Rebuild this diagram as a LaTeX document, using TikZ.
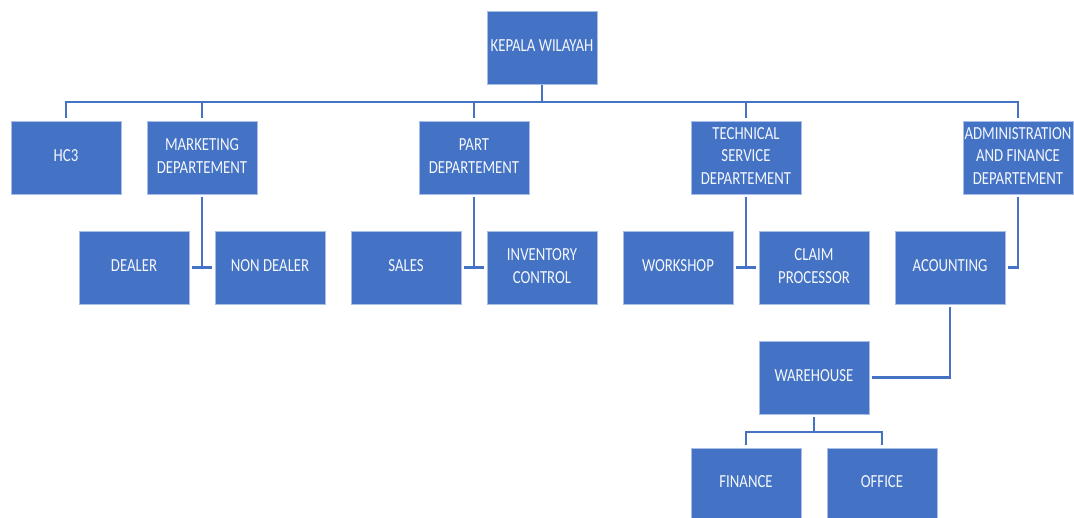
\documentclass[tikz,border=0pt]{standalone}
\usepackage{fontspec}
\setmainfont{Carlito}
\usepackage{graphicx}
\definecolor{boxblue}{HTML}{4472C4}
\definecolor{edgeblue}{HTML}{A9BEE6}
\definecolor{txtwhite}{HTML}{F4F7FC}
\newcommand{\lbl}[1]{\raisebox{-1.5pt}{\scalebox{1.02}[1.27]{\begin{tabular}{@{}c@{}}#1\end{tabular}}}}
\begin{document}
\begin{tikzpicture}[x=1pt,y=-1pt,
  orgbox/.style={rectangle, fill=boxblue, draw=edgeblue, line width=0.6pt,
    minimum width=110pt, minimum height=73pt, inner sep=0pt,
    text=txtwhite, font=\fontsize{14.5}{17.5}\selectfont},
  lowbox/.style={orgbox, minimum height=70pt},
  conn/.style={draw=boxblue, line width=2.6pt, line cap=butt, line join=miter},
  gap/.style={shorten <=3pt, shorten >=3pt}]
\useasboundingbox (0,0) rectangle (1074,518);

\node[orgbox] (kw) at (542,47.5) {\lbl{KEPALA WILAYAH}};
\node[orgbox] (hc3) at (66,157.5) {\lbl{HC3}};
\node[orgbox] (mkt) at (202,157.5) {\lbl{MARKETING\\DEPARTEMENT}};
\node[orgbox] (part) at (474,157.5) {\lbl{PART\\DEPARTEMENT}};
\node[orgbox] (tech) at (746,157.5) {\lbl{TECHNICAL\\SERVICE\\DEPARTEMENT}};
\node[orgbox] (admin) at (1018,157.5) {\lbl{ADMINISTRATION\\AND FINANCE\\DEPARTEMENT}};
\node[orgbox] (dealer) at (134,267.5) {\lbl{DEALER}};
\node[orgbox] (nondealer) at (270,267.5) {\lbl{NON DEALER}};
\node[orgbox] (sales) at (406,267.5) {\lbl{SALES}};
\node[orgbox] (inv) at (542,267.5) {\lbl{INVENTORY\\CONTROL}};
\node[orgbox] (work) at (678,267.5) {\lbl{WORKSHOP}};
\node[orgbox] (claim) at (814,267.5) {\lbl{CLAIM\\PROCESSOR}};
\node[orgbox] (acc) at (950,267.5) {\lbl{ACOUNTING}};
\node[orgbox] (wh) at (814,377.5) {\lbl{WAREHOUSE}};
\node[lowbox] (fin) at (746,483.5) {\lbl{FINANCE}};
\node[lowbox] (off) at (882,483.5) {\lbl{OFFICE}};

\coordinate (bus) at (542,102);
\coordinate (wbus) at (814,432);

% top bus
\draw[conn, shorten <=1pt] (kw.south) -- (kw.south |- bus);
\draw[conn, gap] (hc3.north) -- (hc3.north |- bus) -- (admin.north |- bus) -- (admin.north);
\draw[conn, shorten >=3pt] (mkt.north |- bus) -- (mkt.north);
\draw[conn, shorten >=3pt] (part.north |- bus) -- (part.north);
\draw[conn, shorten >=3pt] (tech.north |- bus) -- (tech.north);

% second level
\draw[conn, shorten <=3pt] (mkt.south) -- (mkt.south |- dealer.east);
\draw[conn, gap] (dealer.east) -- (nondealer.west);
\draw[conn, shorten <=3pt] (part.south) -- (part.south |- sales.east);
\draw[conn, gap] (sales.east) -- (inv.west);
\draw[conn, shorten <=3pt] (tech.south) -- (tech.south |- work.east);
\draw[conn, gap] (work.east) -- (claim.west);
\draw[conn, gap] (admin.south) -- (admin.south |- acc.east) -- (acc.east);

% warehouse
\draw[conn, gap] (acc.south) -- (acc.south |- wh.east) -- (wh.east);
\draw[conn, shorten <=3pt] (wh.south) -- (wh.south |- wbus);
\draw[conn, gap] (fin.north) -- (fin.north |- wbus) -- (off.north |- wbus) -- (off.north);
\end{tikzpicture}
\end{document}
